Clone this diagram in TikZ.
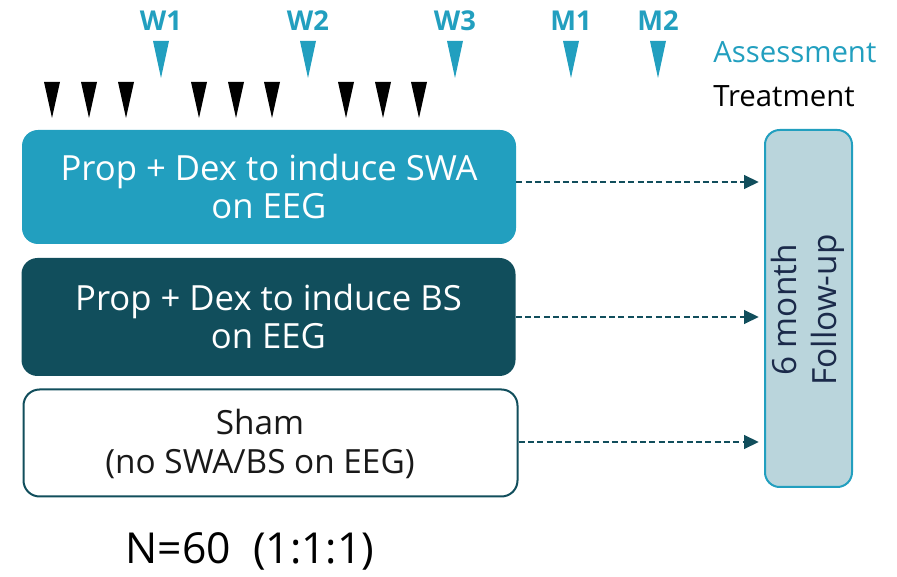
\documentclass[tikz,border=0pt]{standalone}
\usepackage{fontspec}
\setmainfont{Open Sans}
\usetikzlibrary{arrows.meta}
\definecolor{cyanc}{HTML}{229FBF}
\definecolor{tealc}{HTML}{114E5C}
\definecolor{fupc}{HTML}{BAD5DC}
\definecolor{navyc}{HTML}{1B2A4A}
\begin{document}
\begin{tikzpicture}[x=0.75pt,y=-0.75pt,
  tlabel/.style={font=\bfseries\fontsize{20.5}{24}\selectfont, text=cyanc},
  legend/.style={font=\fontsize{22}{26}\selectfont, anchor=west, inner sep=0pt},
  armbox/.style={rounded corners=12pt, minimum width=494*0.75pt, align=center,
     font=\fontsize{26}{28.5}\selectfont},
  arr/.style={draw=tealc, line width=1pt, dash pattern=on 4.5pt off 2.5pt,
     -{Triangle[length=11pt,width=10.5pt]}, shorten >=4pt}]
\useasboundingbox (0,0) rectangle (897,577);
% assessment labels and markers
\foreach \x/\t in {161/W1,308/W2,455/W3,571/M1,658/M2}{
  \node[tlabel] (lab\t) at (\x,21) {\t};
  \fill[cyanc] (\x-8,41) -- (\x+8,41) -- (\x,78) -- cycle;
}
% treatment markers
\foreach \x in {52,89,126,199,236,272,346,383,419}{
  \fill[black] (\x-8,82) -- (\x+8,82) -- (\x,118) -- cycle;
}
\node[legend, text=cyanc] (assess) at (713,52) {Assessment};
\node[legend, text=black] (treat) at (713,96) {Treatment};
% arms
\node[armbox, fill=cyanc, text=white, minimum height=114*0.75pt] (arm1) at (269,187)
  {Prop + Dex to induce SWA\\on EEG};
\node[armbox, fill=tealc, text=white, minimum height=118*0.75pt] (arm2) at (268.5,317)
  {Prop + Dex to induce BS\\on EEG};
\node[armbox, fill=white, draw=tealc, line width=1.5pt, minimum height=107*0.75pt] (arm3) at (270.5,443) {};
\node[align=center, text=black!90, font=\fontsize{25}{29.5}\selectfont] (arm3text) at (260,444)
  {Sham\\(no SWA/BS on EEG)};
% follow-up
\node[fill=fupc, draw=cyanc, line width=1.5pt, rounded corners=11pt,
  minimum width=87*0.75pt, minimum height=357*0.75pt] (fup) at (808.5,308.5) {};
\node[rotate=90, align=center, text=navyc, font=\fontsize{25}{30}\selectfont] (fuptext) at (808,310)
  {6 month\\Follow-up};
% arrows
\draw[arr] (arm1.east |- 0,182) -- (fup.west |- 0,182);
\draw[arr] (arm2.east |- 0,317) -- (fup.west |- 0,317);
\draw[arr] (arm3.east |- 0,442) -- (fup.west |- 0,442);
% N
\node[font=\fontsize{32}{38}\selectfont, text=black] (ntext) at (250,551) {N=60\ \ (1:1:1)};
\end{tikzpicture}
\end{document}
